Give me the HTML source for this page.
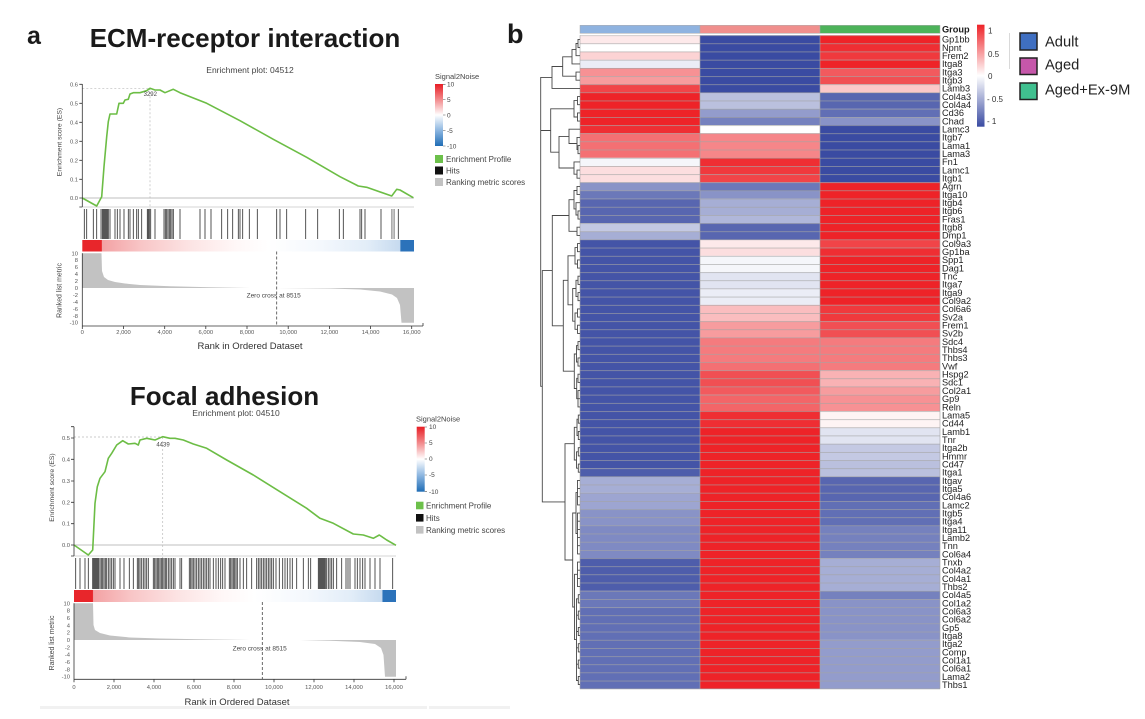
<!DOCTYPE html>
<html><head><meta charset="utf-8"><style>
html,body{margin:0;padding:0;background:#fff;}
body{width:1145px;height:719px;overflow:hidden;}
svg{display:block;font-family:"Liberation Sans",Arial,sans-serif;}
</style></head><body>
<svg width="1145" height="719" viewBox="0 0 1145 719" xmlns="http://www.w3.org/2000/svg">
<defs>
<linearGradient id="strip1" x1="0" x2="1" y1="0" y2="0">
<stop offset="0" stop-color="#e8262b"/><stop offset="0.058" stop-color="#e8262b"/><stop offset="0.06" stop-color="#f3a2a4"/><stop offset="0.18" stop-color="#f8c6c7"/><stop offset="0.32" stop-color="#fce3e3"/><stop offset="0.46" stop-color="#fff7f7"/><stop offset="0.56" stop-color="#ffffff"/><stop offset="0.72" stop-color="#f4f8fd"/><stop offset="0.86" stop-color="#e2edf8"/><stop offset="0.958" stop-color="#c6daef"/><stop offset="0.96" stop-color="#2b72ba"/><stop offset="1" stop-color="#2b72ba"/>
</linearGradient>
<linearGradient id="strip2" x1="0" x2="1" y1="0" y2="0">
<stop offset="0" stop-color="#e8262b"/><stop offset="0.058" stop-color="#e8262b"/><stop offset="0.06" stop-color="#f3a2a4"/><stop offset="0.18" stop-color="#f8c6c7"/><stop offset="0.32" stop-color="#fce3e3"/><stop offset="0.46" stop-color="#fff7f7"/><stop offset="0.56" stop-color="#ffffff"/><stop offset="0.72" stop-color="#f4f8fd"/><stop offset="0.86" stop-color="#e2edf8"/><stop offset="0.957" stop-color="#c6daef"/><stop offset="0.959" stop-color="#2b72ba"/><stop offset="1" stop-color="#2b72ba"/>
</linearGradient>
<linearGradient id="s2n" x1="0" x2="0" y1="0" y2="1">
<stop offset="0" stop-color="#e81e25"/><stop offset="0.25" stop-color="#f28a8c"/><stop offset="0.5" stop-color="#ffffff"/><stop offset="0.75" stop-color="#8cb6e0"/><stop offset="1" stop-color="#1f6db5"/>
</linearGradient>
<linearGradient id="hmscale" x1="0" x2="0" y1="0" y2="1">
<stop offset="0" stop-color="#ee2328"/><stop offset="0.5" stop-color="#ffffff"/><stop offset="1" stop-color="#3a4ba2"/>
</linearGradient>
<pattern id="rowsep" x="580" y="35.3" width="360" height="8.17" patternUnits="userSpaceOnUse">
<rect x="0" y="0" width="360" height="0.6" fill="#a4a4a4"/>
</pattern>
</defs>

<!-- ================= PANEL a ================= -->
<text x="27" y="44" font-size="25" font-weight="bold" fill="#1a1a1a">a</text>
<text x="245" y="47" font-size="26" font-weight="bold" fill="#1a1a1a" text-anchor="middle">ECM-receptor interaction</text>
<text x="250" y="73" font-size="8.5" fill="#444" text-anchor="middle">Enrichment plot: 04512</text>

<!-- top plot -->
<g>
<line x1="82.3" y1="198" x2="414" y2="198" stroke="#aaa" stroke-width="0.8"/>
<line x1="82.3" y1="207" x2="414" y2="207" stroke="#c8c8c8" stroke-width="0.8"/>
<line x1="82.3" y1="88.3" x2="150" y2="88.3" stroke="#bbb" stroke-width="0.7" stroke-dasharray="2,2"/>
<line x1="150" y1="88.3" x2="150" y2="209" stroke="#bbb" stroke-width="0.7" stroke-dasharray="2,2"/>
<polyline fill="none" stroke="#6cbd45" stroke-width="1.6" stroke-linejoin="round" points="82.3,198 96.7,206 101.7,196.7 104,166.7 106.7,136.7 108.3,121.7 110,114 116.7,114 119,103.3 123.3,103.3 125,100 128.3,99.3 130,94 133.3,92.7 140,92.7 146.7,90.7 150,88.3 155,90 160,90 165,92.7 168.3,91.3 173.3,89.3 180,92.7 206.7,103.3 240,120.7 273.3,139.3 306.7,157.3 340,176.7 358.3,186 366.7,187.3 391.7,196 396.7,189.3 400,190 413.3,197.7"/>
<text x="150.3" y="96" font-size="6" fill="#444" text-anchor="middle">3292</text>
<path stroke="#2a2a2a" stroke-width="0.8" fill="none" d="M84.3 209V239M86.7 209V239M93.3 209V239M96.7 209V239M101 209V239M102.3 209V239M103.3 209V239M104.3 209V239M105.3 209V239M106.3 209V239M107.3 209V239M108.3 209V239M110 209V239M115 209V239M117.3 209V239M120 209V239M124 209V239M128.3 209V239M130 209V239M133.3 209V239M136.7 209V239M138.3 209V239M141.7 209V239M147.3 209V239M148.3 209V239M149.3 209V239M150.7 209V239M155 209V239M164 209V239M165.3 209V239M166.7 209V239M168 209V239M169.3 209V239M170.7 209V239M172 209V239M173.3 209V239M180 209V239M200 209V239M205 209V239M211 209V239M221.7 209V239M227.7 209V239M232.7 209V239M238.3 209V239M240 209V239M242.7 209V239M249.3 209V239M257.3 209V239M276.7 209V239M280 209V239M286.7 209V239M305.7 209V239M317.7 209V239M339.3 209V239M343.3 209V239M360 209V239M361.7 209V239M365 209V239M381 209V239M398.3 209V239"/>
<path stroke="#888" stroke-width="0.8" fill="none" d="M391.7 209V239M393 209V239M394.3 209V239"/>
<rect x="82.3" y="240" width="331.7" height="11.5" fill="url(#strip1)"/>
<path fill="#c2c2c2" d="M82.3,288 L82.3,253.3 L101.5,253.3 L102,271 L104,277 L108,280 L115,282 L125,283.5 L140,285 L170,286.3 L210,287.3 L250,288 L276.7,288 L330,288.5 L360,289.5 L380,291.5 L392,294.5 L397,298 L400,305 L401.5,322.7 L414,322.7 L414,288 Z"/>
<line x1="276.7" y1="251.5" x2="276.7" y2="326" stroke="#444" stroke-width="0.8" stroke-dasharray="3,2"/>
<text x="273.7" y="297.5" font-size="6.5" fill="#444" text-anchor="middle">Zero cross at 8515</text>
<!-- axes -->
<path stroke="#333" stroke-width="0.8" fill="none" d="M82.3 84V207M82.3 253.3V326M82.3 326H423M423 326V323M79.3 84.3H82.3M79.3 103.3H82.3M79.3 122.3H82.3M79.3 141.3H82.3M79.3 160.3H82.3M79.3 179.3H82.3M79.3 198H82.3M79.3 207H82.3M82.3 326V329M123.5 326V329M164.7 326V329M205.8 326V329M247 326V329M288.2 326V329M329.4 326V329M370.6 326V329M411.7 326V329"/>
<g font-size="5.8" fill="#555" text-anchor="end">
<text x="78" y="86.3">0.6</text><text x="78" y="105.3">0.5</text><text x="78" y="124.3">0.4</text><text x="78" y="143.3">0.3</text><text x="78" y="162.3">0.2</text><text x="78" y="181.3">0.1</text><text x="78" y="200">0.0</text>
<text x="78" y="255.3">10</text><text x="78" y="262.2">8</text><text x="78" y="269.2">6</text><text x="78" y="276.1">4</text><text x="78" y="283.1">2</text><text x="78" y="290">0</text><text x="78" y="296.9">-2</text><text x="78" y="303.9">-4</text><text x="78" y="310.8">-6</text><text x="78" y="317.8">-8</text><text x="78" y="324.7">-10</text>
</g>
<g font-size="5.8" fill="#555" text-anchor="middle">
<text x="82.3" y="334">0</text><text x="123.5" y="334">2,000</text><text x="164.7" y="334">4,000</text><text x="205.8" y="334">6,000</text><text x="247" y="334">8,000</text><text x="288.2" y="334">10,000</text><text x="329.4" y="334">12,000</text><text x="370.6" y="334">14,000</text><text x="411.7" y="334">16,000</text>
</g>
<text x="250" y="349" font-size="9.5" fill="#333" text-anchor="middle">Rank in Ordered Dataset</text>
<text transform="translate(61.5,142) rotate(-90)" font-size="6.8" fill="#444" text-anchor="middle">Enrichment score (ES)</text>
<text transform="translate(61.5,290.5) rotate(-90)" font-size="6.9" fill="#444" text-anchor="middle">Ranked list metric</text>
<!-- legend -->
<text x="435" y="79" font-size="7.5" fill="#444">Signal2Noise</text>
<rect x="435" y="84" width="8" height="62" fill="url(#s2n)"/>
<path stroke="#555" stroke-width="0.6" d="M443 84.3H445.5M443 99.5H445.5M443 115H445.5M443 130.5H445.5M443 146H445.5"/>
<g font-size="6.5" fill="#444"><text x="447" y="86.5">10</text><text x="447" y="102">5</text><text x="447" y="117.5">0</text><text x="447" y="133">-5</text><text x="447" y="148.5">-10</text></g>
<rect x="435" y="155" width="8" height="8" fill="#6cc04a"/>
<rect x="435" y="166.5" width="8" height="8" fill="#111"/>
<rect x="435" y="178" width="8" height="8" fill="#c2c2c2"/>
<g font-size="8" fill="#444"><text x="446" y="162">Enrichment Profile</text><text x="446" y="173.5">Hits</text><text x="446" y="185">Ranking metric scores</text></g>
</g>

<!-- bottom plot -->
<text x="224.5" y="405" font-size="26" font-weight="bold" fill="#1a1a1a" text-anchor="middle">Focal adhesion</text>
<text x="236" y="416" font-size="8.5" fill="#444" text-anchor="middle">Enrichment plot: 04510</text>
<g>
<line x1="74" y1="545" x2="396" y2="545" stroke="#aaa" stroke-width="0.8"/>
<line x1="74" y1="556" x2="396" y2="556" stroke="#c8c8c8" stroke-width="0.8"/>
<line x1="74" y1="437" x2="162.7" y2="437" stroke="#bbb" stroke-width="0.7" stroke-dasharray="2,2"/>
<line x1="162.7" y1="437" x2="162.7" y2="558" stroke="#bbb" stroke-width="0.7" stroke-dasharray="2,2"/>
<polyline fill="none" stroke="#6cbd45" stroke-width="1.6" stroke-linejoin="round" points="74,545 88.3,555 92.7,550 95,503.3 97.3,486.7 100,478.3 105,471.7 108.3,458.3 111.7,453.3 116.7,445 122.7,440.7 128.3,444 135,443.3 138.3,445 140,440 146.7,438.3 151.7,439.3 155,440 162.7,436.7 170,438.3 175,438.3 183.3,440 193.3,444 206.7,448.3 226.7,460 253.3,475 280,491.7 306.7,508.3 320,518.3 333.3,523.3 353.3,534 363.3,535 373.3,538.3 379.3,535 386.7,540 396,545.3"/>
<text x="163" y="446.5" font-size="6" fill="#444" text-anchor="middle">4439</text>
<path stroke="#2a2a2a" stroke-width="0.8" fill="none" d="M75.7 558V589M80 558V589M85 558V589M88.3 558V589M92.7 558V589M93.7 558V589M94.7 558V589M95.7 558V589M96.7 558V589M97.7 558V589M98.7 558V589M100 558V589M101.3 558V589M102.7 558V589M104 558V589M105.3 558V589M106.7 558V589M108.3 558V589M110 558V589M111.7 558V589M113.3 558V589M115 558V589M120 558V589M124 558V589M129.3 558V589M133.3 558V589M137.3 558V589M138.7 558V589M140 558V589M141.7 558V589M143.3 558V589M145 558V589M146.7 558V589M148.3 558V589M153.3 558V589M154.7 558V589M156 558V589M157.3 558V589M158.7 558V589M160 558V589M161.3 558V589M162.7 558V589M164 558V589M165.3 558V589M166.7 558V589M168.3 558V589M170 558V589M171.7 558V589M173.3 558V589M175 558V589M180 558V589M181.7 558V589M189.3 558V589M190.7 558V589M192 558V589M193.3 558V589M195 558V589M196.7 558V589M198.3 558V589M200 558V589M201.7 558V589M203.3 558V589M205 558V589M206.7 558V589M208.3 558V589M210 558V589M213.3 558V589M216 558V589M218.3 558V589M220.7 558V589M222.7 558V589M225 558V589M229.3 558V589M230.7 558V589M232 558V589M233.3 558V589M234.7 558V589M236 558V589M237.3 558V589M240 558V589M243.3 558V589M246.7 558V589M251.7 558V589M256.7 558V589M258.3 558V589M260 558V589M261.7 558V589M263.3 558V589M265 558V589M266.7 558V589M268.3 558V589M270 558V589M271.7 558V589M273.3 558V589M276 558V589M279.3 558V589M282.7 558V589M285 558V589M287.3 558V589M290 558V589M292.3 558V589M296.7 558V589M303.3 558V589M308.3 558V589M310.7 558V589M318.3 558V589M319.3 558V589M320.3 558V589M321.3 558V589M322.3 558V589M323.3 558V589M324.3 558V589M325.3 558V589M326.7 558V589M328.3 558V589M330 558V589M331.7 558V589M333.3 558V589M336.7 558V589M341.7 558V589M346 558V589M348 558V589M350 558V589M355 558V589M357.3 558V589M360 558V589M362.7 558V589M365 558V589M370 558V589M375 558V589M380 558V589M392.7 558V589"/>
<rect x="74" y="590" width="322" height="12" fill="url(#strip2)"/>
<path fill="#c2c2c2" d="M74,640 L74,603.3 L93,603.3 L93.5,625 L95,630 L100,633 L110,635.5 L130,637.5 L160,638.5 L200,639.3 L250,640 L300,640 L330,640.8 L360,642 L375,644 L381,648 L383.5,655 L385,676.7 L396,676.7 L396,640 Z"/>
<line x1="262.3" y1="602" x2="262.3" y2="679.3" stroke="#444" stroke-width="0.8" stroke-dasharray="3,2"/>
<text x="259.7" y="650.5" font-size="6.5" fill="#444" text-anchor="middle">Zero cross at 8515</text>
<path stroke="#333" stroke-width="0.8" fill="none" d="M74 426.7V556M74 603.3V679.3M74 679.3H406M406 679.3V676.3M71 426.7H74M71 438H74M71 459.3H74M71 481H74M71 502.3H74M71 523.7H74M71 545H74M71 556H74M74 679.3V682.3M114 679.3V682.3M154 679.3V682.3M194 679.3V682.3M234 679.3V682.3M274 679.3V682.3M314 679.3V682.3M354 679.3V682.3M394 679.3V682.3"/>
<g font-size="5.8" fill="#555" text-anchor="end">
<text x="70" y="440">0.5</text><text x="70" y="461.3">0.4</text><text x="70" y="483">0.3</text><text x="70" y="504.3">0.2</text><text x="70" y="525.7">0.1</text><text x="70" y="547">0.0</text>
<text x="70" y="605.3">10</text><text x="70" y="612.6">8</text><text x="70" y="620">6</text><text x="70" y="627.3">4</text><text x="70" y="634.6">2</text><text x="70" y="642">0</text><text x="70" y="649.3">-2</text><text x="70" y="656.6">-4</text><text x="70" y="664">-6</text><text x="70" y="671.3">-8</text><text x="70" y="678.7">-10</text>
</g>
<g font-size="5.8" fill="#555" text-anchor="middle">
<text x="74" y="689">0</text><text x="114" y="689">2,000</text><text x="154" y="689">4,000</text><text x="194" y="689">6,000</text><text x="234" y="689">8,000</text><text x="274" y="689">10,000</text><text x="314" y="689">12,000</text><text x="354" y="689">14,000</text><text x="394" y="689">16,000</text>
</g>
<text x="237" y="705" font-size="9.5" fill="#333" text-anchor="middle">Rank in Ordered Dataset</text>
<text transform="translate(54,487.5) rotate(-90)" font-size="6.8" fill="#444" text-anchor="middle">Enrichment score (ES)</text>
<text transform="translate(54,643) rotate(-90)" font-size="6.9" fill="#444" text-anchor="middle">Ranked list metric</text>
<text x="416" y="421.5" font-size="7.5" fill="#444">Signal2Noise</text>
<rect x="416.7" y="426.7" width="8" height="65" fill="url(#s2n)"/>
<path stroke="#555" stroke-width="0.6" d="M424.7 427H427M424.7 443H427M424.7 459H427M424.7 475H427M424.7 491.7H427"/>
<g font-size="6.5" fill="#444"><text x="429" y="429.2">10</text><text x="429" y="445.2">5</text><text x="429" y="461.2">0</text><text x="429" y="477.2">-5</text><text x="429" y="493.9">-10</text></g>
<rect x="416" y="501.7" width="7.5" height="7.6" fill="#6cc04a"/>
<rect x="416" y="514" width="7.5" height="7.6" fill="#111"/>
<rect x="416" y="526" width="7.5" height="7.6" fill="#c2c2c2"/>
<g font-size="8" fill="#444"><text x="426" y="508.5">Enrichment Profile</text><text x="426" y="520.8">Hits</text><text x="426" y="532.8">Ranking metric scores</text></g>
</g>
<rect x="40" y="706" width="387" height="3" fill="#f1f1f1"/>
<rect x="429" y="706" width="81" height="3" fill="#f1f1f1"/>

<!-- ================= PANEL b ================= -->
<text x="507" y="43" font-size="27" font-weight="bold" fill="#1a1a1a">b</text>

<!-- group bar -->
<rect x="580" y="25.3" width="120" height="8" fill="#8fb3e0" stroke="#aaa" stroke-width="0.5"/>
<rect x="700" y="25.3" width="120" height="8" fill="#f08f8d" stroke="#aaa" stroke-width="0.5"/>
<rect x="820" y="25.3" width="120" height="8" fill="#4db35a" stroke="#aaa" stroke-width="0.5"/>

<!-- heatmap column A -->
<g>
<rect x="580" y="35.3" width="120" height="8.17" fill="#fde9ea"/>
<rect x="580" y="43.47" width="120" height="8.17" fill="#ffffff"/>
<rect x="580" y="51.64" width="120" height="8.17" fill="#fcd3d4"/>
<rect x="580" y="59.81" width="120" height="8.17" fill="#ebedf6"/>
<rect x="580" y="67.98" width="120" height="8.17" fill="#f79194"/>
<rect x="580" y="76.15" width="120" height="8.17" fill="#f79c9e"/>
<rect x="580" y="84.32" width="120" height="8.17" fill="#f14448"/>
<rect x="580" y="92.49" width="120" height="32.68" fill="#ee2328"/>
<rect x="580" y="125.17" width="120" height="8.17" fill="#ef2e33"/>
<rect x="580" y="133.34" width="120" height="24.51" fill="#f47073"/>
<rect x="580" y="157.85" width="120" height="8.17" fill="#f5f6fa"/>
<rect x="580" y="166.02" width="120" height="16.34" fill="#fcdedf"/>
<rect x="580" y="182.36" width="120" height="8.17" fill="#8993c7"/>
<rect x="580" y="190.53" width="120" height="8.17" fill="#6b78b9"/>
<rect x="580" y="198.7" width="120" height="24.51" fill="#5866b0"/>
<rect x="580" y="223.21" width="120" height="8.17" fill="#c4c9e3"/>
<rect x="580" y="231.38" width="120" height="8.17" fill="#a6aed5"/>
<rect x="580" y="239.55" width="120" height="228.76" fill="#4454a7"/>
<rect x="580" y="468.31" width="120" height="8.17" fill="#4e5dab"/>
<rect x="580" y="476.48" width="120" height="16.34" fill="#a6aed5"/>
<rect x="580" y="492.82" width="120" height="16.34" fill="#9da5d1"/>
<rect x="580" y="509.16" width="120" height="16.34" fill="#8993c7"/>
<rect x="580" y="525.5" width="120" height="32.68" fill="#7f8ac3"/>
<rect x="580" y="558.18" width="120" height="32.68" fill="#4e5dab"/>
<rect x="580" y="590.86" width="120" height="16.34" fill="#6b78b9"/>
<rect x="580" y="607.2" width="120" height="81.7" fill="#616fb5"/>
</g>
<!-- column B -->
<g>
<rect x="700" y="35.3" width="120" height="57.19" fill="#3a4ba2"/>
<rect x="700" y="92.49" width="120" height="16.34" fill="#bac0de"/>
<rect x="700" y="108.83" width="120" height="8.17" fill="#939ccc"/>
<rect x="700" y="117" width="120" height="8.17" fill="#7581be"/>
<rect x="700" y="125.17" width="120" height="8.17" fill="#ffffff"/>
<rect x="700" y="133.34" width="120" height="24.51" fill="#f68689"/>
<rect x="700" y="157.85" width="120" height="8.17" fill="#ef2e33"/>
<rect x="700" y="166.02" width="120" height="8.17" fill="#f0393d"/>
<rect x="700" y="174.19" width="120" height="8.17" fill="#f14448"/>
<rect x="700" y="182.36" width="120" height="8.17" fill="#6b78b9"/>
<rect x="700" y="190.53" width="120" height="8.17" fill="#8993c7"/>
<rect x="700" y="198.7" width="120" height="16.34" fill="#a6aed5"/>
<rect x="700" y="215.04" width="120" height="8.17" fill="#b0b7da"/>
<rect x="700" y="223.21" width="120" height="16.34" fill="#5866b0"/>
<rect x="700" y="239.55" width="120" height="8.17" fill="#fde9ea"/>
<rect x="700" y="247.72" width="120" height="8.17" fill="#fcdedf"/>
<rect x="700" y="255.89" width="120" height="16.34" fill="#f5f6fa"/>
<rect x="700" y="272.23" width="120" height="16.34" fill="#e1e4f1"/>
<rect x="700" y="288.57" width="120" height="16.34" fill="#ebedf6"/>
<rect x="700" y="304.91" width="120" height="16.34" fill="#fabdbf"/>
<rect x="700" y="321.25" width="120" height="16.34" fill="#f79c9e"/>
<rect x="700" y="337.59" width="120" height="24.51" fill="#f57b7e"/>
<rect x="700" y="362.1" width="120" height="8.17" fill="#f47073"/>
<rect x="700" y="370.27" width="120" height="16.34" fill="#f14f53"/>
<rect x="700" y="386.61" width="120" height="8.17" fill="#f25a5e"/>
<rect x="700" y="394.78" width="120" height="16.34" fill="#f36568"/>
<rect x="700" y="411.12" width="120" height="16.34" fill="#ef2e33"/>
<rect x="700" y="427.46" width="120" height="261.44" fill="#ee2328"/>
</g>
<!-- column C -->
<g>
<rect x="820" y="35.3" width="120" height="8.17" fill="#ee2328"/>
<rect x="820" y="43.47" width="120" height="8.17" fill="#ef2e33"/>
<rect x="820" y="51.64" width="120" height="8.17" fill="#f0393d"/>
<rect x="820" y="59.81" width="120" height="8.17" fill="#ee2328"/>
<rect x="820" y="67.98" width="120" height="8.17" fill="#f25a5e"/>
<rect x="820" y="76.15" width="120" height="8.17" fill="#f14f53"/>
<rect x="820" y="84.32" width="120" height="8.17" fill="#fbc8c9"/>
<rect x="820" y="92.49" width="120" height="16.34" fill="#5866b0"/>
<rect x="820" y="108.83" width="120" height="8.17" fill="#616fb5"/>
<rect x="820" y="117" width="120" height="8.17" fill="#8993c7"/>
<rect x="820" y="125.17" width="120" height="57.19" fill="#3a4ba2"/>
<rect x="820" y="182.36" width="120" height="57.19" fill="#ee2328"/>
<rect x="820" y="239.55" width="120" height="8.17" fill="#f14448"/>
<rect x="820" y="247.72" width="120" height="8.17" fill="#ef2e33"/>
<rect x="820" y="255.89" width="120" height="49.02" fill="#ee2328"/>
<rect x="820" y="304.91" width="120" height="16.34" fill="#f0393d"/>
<rect x="820" y="321.25" width="120" height="16.34" fill="#f14f53"/>
<rect x="820" y="337.59" width="120" height="32.68" fill="#f57b7e"/>
<rect x="820" y="370.27" width="120" height="16.34" fill="#f9b2b4"/>
<rect x="820" y="386.61" width="120" height="8.17" fill="#f79c9e"/>
<rect x="820" y="394.78" width="120" height="16.34" fill="#f79194"/>
<rect x="820" y="411.12" width="120" height="16.34" fill="#fef4f4"/>
<rect x="820" y="427.46" width="120" height="16.34" fill="#e1e4f1"/>
<rect x="820" y="443.8" width="120" height="16.34" fill="#c4c9e3"/>
<rect x="820" y="460.14" width="120" height="16.34" fill="#bac0de"/>
<rect x="820" y="476.48" width="120" height="24.51" fill="#5866b0"/>
<rect x="820" y="500.99" width="120" height="24.51" fill="#616fb5"/>
<rect x="820" y="525.5" width="120" height="32.68" fill="#7581be"/>
<rect x="820" y="558.18" width="120" height="32.68" fill="#a6aed5"/>
<rect x="820" y="590.86" width="120" height="8.17" fill="#7581be"/>
<rect x="820" y="599.03" width="120" height="40.85" fill="#8993c7"/>
<rect x="820" y="639.88" width="120" height="49.02" fill="#939ccc"/>
</g>
<!-- grid lines -->
<rect x="580" y="35.3" width="360" height="653.6" fill="url(#rowsep)"/>
<path stroke="#a4a4a4" stroke-width="0.6" fill="none" d="M580 35.3V688.9M700 35.3V688.9M820 35.3V688.9M940 35.3V688.9M580 688.9H940"/>

<!-- dendrogram -->
<path stroke="#484848" stroke-width="0.9" fill="none" d="M580 39.4H578V47.6H580M578 43.5H576V55.7H580M576 49.6H572V63.9H580M580 72.1H576V80.2H580M572 56.8H562.7V76.2H576M562.7 66.5H552V88.4H580M580 96.6H577.5V104.7H580M580 112.9H577.5V121.1H580M577.5 100.6H574V117H577.5M580 145.6H578V153.7H580M580 137.4H577V149.6H578M580 129.2H569V143.5H577M580 170.1H577V178.2H580M580 161.9H574V174.2H577M569 136.4H559V168H574M574 108.8H550.7V152.2H559M552 77.4H540.7V130.5H550.7M540.7 104V386.3H542.3
M580 186.4H577V194.6H580M580 210.9H578V219.1H580M580 202.7H576V215H578M577 190.5H574V208.9H576M580 227.2H577V235.4H580M574 199.7H569V231.3H577M580 243.6H577.5V251.7H580M580 259.9H577.5V268.1H580M577.5 247.6H575V264H577.5M580 276.2H578V284.4H580M580 292.6H578V300.7H580M578 280.3H576V296.6H578M580 308.9H577.5V317.1H580M580 325.2H577.5V333.4H580M577.5 313H575V329.3H577.5M576 288.5H572.7V321.2H575M575 255.8H568V304.8H572.7M580 341.6H578V349.7H580M580 357.9H578V366.1H580M578 345.6H576.5V362H578M580 374.2H578V382.4H580M580 390.6H578V406.9H580M578 398.7H580M578 378.3H576.7V398.7H578M576.5 354H574.3V388.5H576.7M568 280.3H563.3V371.2H574.3M569 215.5H552.3V325.8H563.3
M580 415.1H578.3V423.2H580M580 431.4H578.3V439.6H580M578.3 419.2H577V435.5H578.3M580 447.7H578.3V455.9H580M580 464.1H578.3V472.2H580M578.3 451.8H576.5V468.2H578.3M577 427.3H574.3V460H576.5M580 480.4H577.5V504.9H580M577.5 488.6H580M577.5 496.7H580M580 513.1H577.5V553.9H580M577.5 521.2H580M577.5 529.4H580M577.5 537.6H580M577.5 545.7H580M577.5 492.6H576V533.5H577.5M580 562.1H577.5V586.6H580M577.5 570.2H580M577.5 578.4H580
M580 594.7H578.3V602.9H580M580 611.1H578.3V619.2H580M580 627.4H578.3V635.6H580M580 643.7H578.3V651.9H580M580 660.1H578.3V668.2H580M580 676.4H578.3V684.6H580M578.3 598.8H576.5V680.5H578.3M576.5 615.2H578.3M576.5 631.5H578.3M576.5 647.8H578.3M576.5 664.2H578.3
M577.5 574.3H574.5V639.6H576.5M576 513H572.7V607H574.5M574.3 443.7H565V560H572.7M552.3 270.6H542.3V501.9H565"/>

<!-- row labels -->
<text x="942" y="32.6" font-size="9.2" font-weight="bold" fill="#1a1a1a">Group</text>
<text font-size="9.2" fill="#222"><tspan x="942" y="42.6">Gp1bb</tspan><tspan x="942" dy="8.17">Npnt</tspan><tspan x="942" dy="8.17">Frem2</tspan><tspan x="942" dy="8.17">Itga8</tspan><tspan x="942" dy="8.17">Itga3</tspan><tspan x="942" dy="8.17">Itgb3</tspan><tspan x="942" dy="8.17">Lamb3</tspan><tspan x="942" dy="8.17">Col4a3</tspan><tspan x="942" dy="8.17">Col4a4</tspan><tspan x="942" dy="8.17">Cd36</tspan><tspan x="942" dy="8.17">Chad</tspan><tspan x="942" dy="8.17">Lamc3</tspan><tspan x="942" dy="8.17">Itgb7</tspan><tspan x="942" dy="8.17">Lama1</tspan><tspan x="942" dy="8.17">Lama3</tspan><tspan x="942" dy="8.17">Fn1</tspan><tspan x="942" dy="8.17">Lamc1</tspan><tspan x="942" dy="8.17">Itgb1</tspan><tspan x="942" dy="8.17">Agrn</tspan><tspan x="942" dy="8.17">Itga10</tspan><tspan x="942" dy="8.17">Itgb4</tspan><tspan x="942" dy="8.17">Itgb6</tspan><tspan x="942" dy="8.17">Fras1</tspan><tspan x="942" dy="8.17">Itgb8</tspan><tspan x="942" dy="8.17">Dmp1</tspan><tspan x="942" dy="8.17">Col9a3</tspan><tspan x="942" dy="8.17">Gp1ba</tspan><tspan x="942" dy="8.17">Spp1</tspan><tspan x="942" dy="8.17">Dag1</tspan><tspan x="942" dy="8.17">Tnc</tspan><tspan x="942" dy="8.17">Itga7</tspan><tspan x="942" dy="8.17">Itga9</tspan><tspan x="942" dy="8.17">Col9a2</tspan><tspan x="942" dy="8.17">Col6a6</tspan><tspan x="942" dy="8.17">Sv2a</tspan><tspan x="942" dy="8.17">Frem1</tspan><tspan x="942" dy="8.17">Sv2b</tspan><tspan x="942" dy="8.17">Sdc4</tspan><tspan x="942" dy="8.17">Thbs4</tspan><tspan x="942" dy="8.17">Thbs3</tspan><tspan x="942" dy="8.17">Vwf</tspan><tspan x="942" dy="8.17">Hspg2</tspan><tspan x="942" dy="8.17">Sdc1</tspan><tspan x="942" dy="8.17">Col2a1</tspan><tspan x="942" dy="8.17">Gp9</tspan><tspan x="942" dy="8.17">Reln</tspan><tspan x="942" dy="8.17">Lama5</tspan><tspan x="942" dy="8.17">Cd44</tspan><tspan x="942" dy="8.17">Lamb1</tspan><tspan x="942" dy="8.17">Tnr</tspan><tspan x="942" dy="8.17">Itga2b</tspan><tspan x="942" dy="8.17">Hmmr</tspan><tspan x="942" dy="8.17">Cd47</tspan><tspan x="942" dy="8.17">Itga1</tspan><tspan x="942" dy="8.17">Itgav</tspan><tspan x="942" dy="8.17">Itga5</tspan><tspan x="942" dy="8.17">Col4a6</tspan><tspan x="942" dy="8.17">Lamc2</tspan><tspan x="942" dy="8.17">Itgb5</tspan><tspan x="942" dy="8.17">Itga4</tspan><tspan x="942" dy="8.17">Itga11</tspan><tspan x="942" dy="8.17">Lamb2</tspan><tspan x="942" dy="8.17">Tnn</tspan><tspan x="942" dy="8.17">Col6a4</tspan><tspan x="942" dy="8.17">Tnxb</tspan><tspan x="942" dy="8.17">Col4a2</tspan><tspan x="942" dy="8.17">Col4a1</tspan><tspan x="942" dy="8.17">Thbs2</tspan><tspan x="942" dy="8.17">Col4a5</tspan><tspan x="942" dy="8.17">Col1a2</tspan><tspan x="942" dy="8.17">Col6a3</tspan><tspan x="942" dy="8.17">Col6a2</tspan><tspan x="942" dy="8.17">Gp5</tspan><tspan x="942" dy="8.17">Itga8</tspan><tspan x="942" dy="8.17">Itga2</tspan><tspan x="942" dy="8.17">Comp</tspan><tspan x="942" dy="8.17">Col1a1</tspan><tspan x="942" dy="8.17">Col6a1</tspan><tspan x="942" dy="8.17">Lama2</tspan><tspan x="942" dy="8.17">Thbs1</tspan></text>

<!-- heatmap colour scale -->
<rect x="977" y="24.7" width="7.5" height="102" fill="url(#hmscale)"/>
<g font-size="8" fill="#333">
<text x="988" y="33.5">1</text><text x="988" y="57">0.5</text><text x="988" y="79">0</text><text x="987" y="102">- 0.5</text><text x="987" y="124">- 1</text>
</g>

<!-- group legend -->
<line x1="1009.5" y1="33" x2="1009.5" y2="69" stroke="#d0d0d0" stroke-width="0.8"/>
<rect x="1020" y="33" width="17" height="17" fill="#3f6fc1" stroke="#222" stroke-width="1.5"/>
<rect x="1020" y="58" width="17" height="16.5" fill="#c657aa" stroke="#222" stroke-width="1.5"/>
<rect x="1020" y="83" width="17" height="16.5" fill="#40c08f" stroke="#222" stroke-width="1.5"/>
<g font-size="14.7" fill="#222">
<text x="1045" y="46.3">Adult</text><text x="1045" y="69.5">Aged</text><text x="1045" y="94.5">Aged+Ex-9M</text>
</g>
</svg>
</body></html>
